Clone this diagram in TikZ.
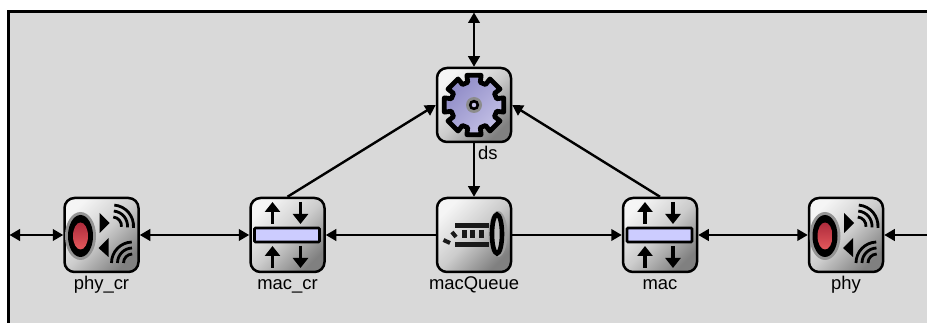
\documentclass[tikz,border=0pt]{standalone}
\usepackage{fontspec}
\setmainfont{Liberation Sans}
\usetikzlibrary{arrows.meta}
\definecolor{panel}{HTML}{D9D9D9}
\definecolor{barfill}{HTML}{CCCCFF}
\definecolor{gearA}{HTML}{8E8AC6}
\definecolor{gearB}{HTML}{C4C1E6}
\definecolor{redA}{HTML}{AE2B3C}
\definecolor{redB}{HTML}{E4585C}
\tikzset{
  modbox/.style={draw=black,line width=2.5pt,rounded corners=10pt,minimum size=74pt,inner sep=0pt,outer sep=1.25pt,
    top color=black!4,bottom color=black!50,middle color=black!20,shading angle=45},
  modlabel/.style={inner sep=0pt,font=\fontsize{18.4}{21}\selectfont,text=black},
  conn/.style={line width=2.4pt,draw=black},
  one/.style={conn,-{Triangle[length=10.5pt,width=11.5pt]}},
  both/.style={conn,{Triangle[length=10.5pt,width=11.5pt]}-{Triangle[length=10.5pt,width=11.5pt]}},
  wave/.style={line width=2.8pt,draw=black},
  minitip/.style={line width=3.4pt,-{Triangle[length=10pt,width=15pt]}}
}
\newcommand{\phyicon}[1]{%
  \begin{scope}[shift={(#1.center)}]
    \fill[black!42] (-21,1) ellipse[x radius=15.5,y radius=24];
    \fill[black] (-21,1) ellipse[x radius=12.5,y radius=21];
    \shade[top color=redA,bottom color=redB] (-21,1) ellipse[x radius=7.5,y radius=13.5];
    \fill[black] (-2,-22) -- (8,-12) -- (-2,-2) -- cycle;
    \fill[black] (7,3) -- (-3,13) -- (7,22) -- cycle;
    \foreach \r in {9,15,21} {
      \draw[wave] (11,-9)+(-85:\r) arc[start angle=-85,end angle=5,radius=\r];
      \draw[wave] (31,28)+(180:\r) arc[start angle=180,end angle=268,radius=\r];
    }
  \end{scope}}
\newcommand{\macicon}[1]{%
  \begin{scope}[shift={(#1.center)}]
    \draw[minitip] (-15,-11) -- (-15,-33);
    \draw[minitip] (13,-33) -- (13,-11);
    \draw[minitip] (-15,33) -- (-15,11);
    \draw[minitip] (13,11) -- (13,33);
    \draw[line width=2.6pt,fill=barfill,rounded corners=1pt] (-33,-7) rectangle (32,7);
  \end{scope}}
\newcommand{\queueicon}[1]{%
  \begin{scope}[shift={(#1.center)}]
    \fill[black!38] (24,-1) ellipse[x radius=9.5,y radius=23];
    \draw[line width=4.6pt,fill=black!25] (23,-1) ellipse[x radius=5,y radius=19.5];
    \fill[black!90] (-19,-12) rectangle (15,-7);
    \fill[black!90] (-19,7) rectangle (15,12);
    \fill[black!90] (-12,-5) rectangle (-7,3);
    \fill[black!90] (-4,-5) rectangle (1,3);
    \fill[black!90] (5,-5) rectangle (10,3);
    \draw[line width=4pt,black!90] (-30.5,5) -- (-24,8);
    \draw[line width=4pt,black!90] (-22,-3) -- (-18,2);
  \end{scope}}
\newcommand{\gearicon}[1]{%
  \begin{scope}[shift={(#1.center)}]
    \draw[line width=4.8pt,line join=round,top color=gearA,bottom color=gearB,shading angle=45]
      (-13.5:30.5)
      \foreach \a in {0,45,...,315} {
        -- ({\a-13.5}:30.5) -- ({\a+13.5}:30.5) -- ({\a+15.5}:23.5) -- ({\a+29.5}:23.5)
      } -- cycle;
    \fill[black!45] (0,0) circle[radius=8];
    \draw[line width=2.6pt,black,fill=gearB] (0,0) circle[radius=3.8];
  \end{scope}}
\begin{document}
\begin{tikzpicture}[x=1pt,y=-1pt]
  \useasboundingbox (0,0) rectangle (927,323);
  \begin{scope}
    \clip (0,0) rectangle (927,323);
    \fill[white] (0,0) rectangle (927,323);
    \draw[line width=2.2pt,fill=panel] (8.5,11.5) rectangle (945,340);
  \end{scope}
  \coordinate (gateTop) at (474,12.5);
  \coordinate (gateLeft) at (9.5,235);
  \coordinate (gateRight) at (927,235);

  \node[modbox] (ds) at (474,105) {};
  \node[modbox] (phycr) at (101.5,235) {};
  \node[modbox] (maccr) at (287.5,235) {};
  \node[modbox] (macqueue) at (474,235) {};
  \node[modbox] (mac) at (660,235) {};
  \node[modbox] (phy) at (846,235) {};

  \node[modlabel,anchor=base] (phycrlabel) at (101.5,289.5) {phy\_cr};
  \node[modlabel,anchor=base] (maccrlabel) at (287.5,289.5) {mac\_cr};
  \node[modlabel,anchor=base] (macqueuelabel) at (474,289.5) {macQueue};
  \node[modlabel,anchor=base] (maclabel) at (660,289.5) {mac};
  \node[modlabel,anchor=base] (phylabel) at (846,289.5) {phy};
  \node[modlabel,anchor=base west] (dslabel) at (478,159.5) {ds};

  \draw[both] (gateTop) -- (ds.north);
  \draw[one] (ds.south) -- (macqueue.north);
  \draw[one] (maccr.north) -- (ds.west);
  \draw[one] (mac.north) -- (ds.east);
  \draw[both] (gateLeft) -- (phycr.west);
  \draw[both] (phycr.east) -- (maccr.west);
  \draw[one] (macqueue.west) -- (maccr.east);
  \draw[one] (macqueue.east) -- (mac.west);
  \draw[both] (mac.east) -- (phy.west);
  \draw[one] (gateRight) -- (phy.east);

  \gearicon{ds}
  \phyicon{phycr}
  \macicon{maccr}
  \queueicon{macqueue}
  \macicon{mac}
  \phyicon{phy}
\end{tikzpicture}
\end{document}
